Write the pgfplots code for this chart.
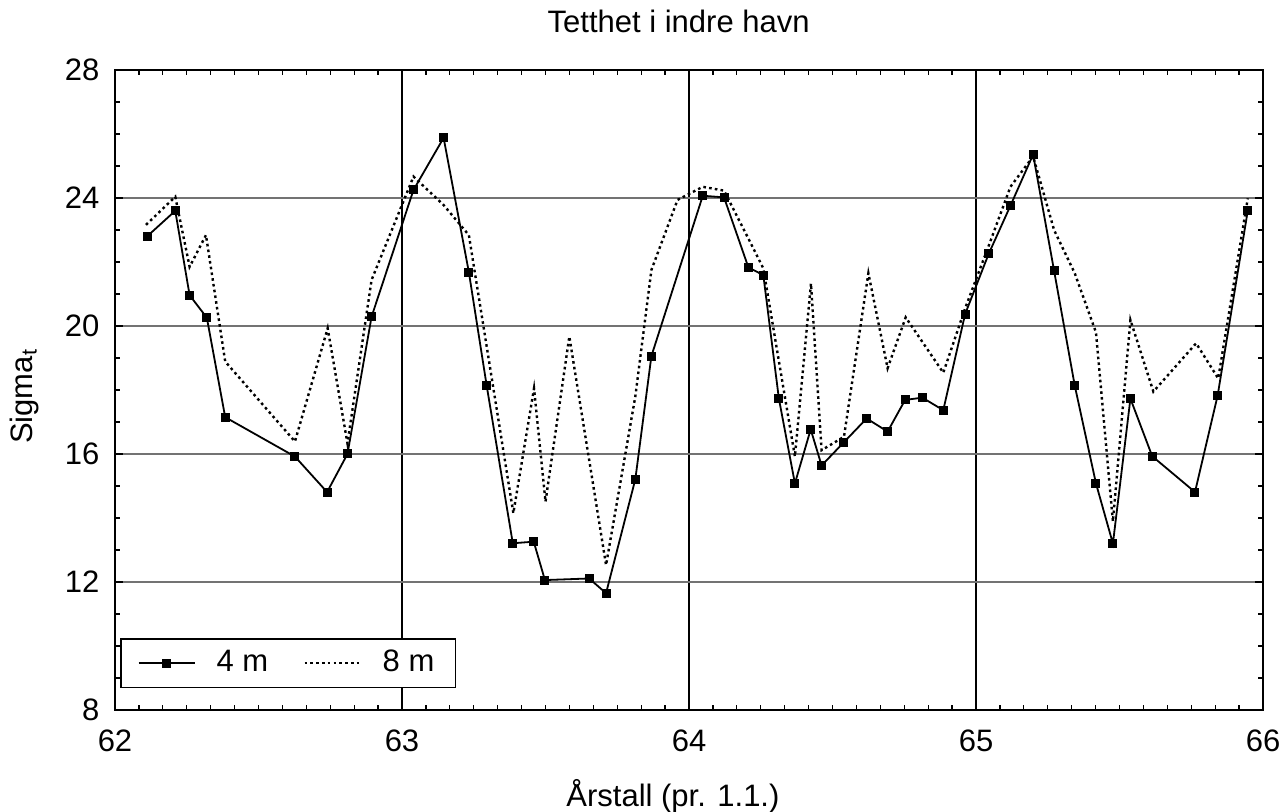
\documentclass[border=0pt]{standalone}
\usepackage{fontspec}
\setmainfont{Liberation Sans}
\usepackage{pgfplots}
\pgfplotsset{compat=1.18}

\newcommand{\chartfont}{\fontsize{15.5}{18}\selectfont}

% 4 m
\pgfplotstableread{
x y
62.113 22.81
62.210 23.60
62.260 20.96
62.320 20.26
62.384 17.15
62.627 15.92
62.739 14.81
62.810 16.00
62.894 20.29
63.040 24.25
63.145 25.88
63.233 21.68
63.295 18.14
63.386 13.21
63.459 13.26
63.498 12.06
63.652 12.11
63.711 11.65
63.813 15.21
63.869 19.06
64.048 24.07
64.122 24.02
64.207 21.83
64.259 21.59
64.313 17.74
64.369 15.08
64.424 16.77
64.462 15.64
64.540 16.37
64.619 17.11
64.692 16.70
64.753 17.69
64.813 17.76
64.886 17.37
64.962 20.37
65.044 22.25
65.120 23.76
65.199 25.36
65.272 21.73
65.344 18.14
65.418 15.08
65.477 13.20
65.538 17.73
65.614 15.93
65.763 14.81
65.842 17.83
65.947 23.61
}\fourm

% 8 m
\pgfplotstableread{
x y
62.108 23.16
62.210 24.04
62.260 21.85
62.317 22.84
62.384 18.89
62.627 16.39
62.741 19.93
62.810 16.33
62.894 21.44
63.040 24.67
63.145 23.78
63.233 22.84
63.388 14.15
63.460 18.05
63.500 14.51
63.583 19.67
63.711 12.53
63.813 17.80
63.869 21.75
63.960 23.94
64.048 24.35
64.122 24.23
64.207 22.73
64.259 21.80
64.369 15.92
64.425 21.33
64.462 16.12
64.540 16.54
64.625 21.65
64.692 18.68
64.755 20.27
64.886 18.54
64.962 20.55
65.044 22.50
65.120 24.35
65.199 25.30
65.272 23.00
65.344 21.65
65.418 19.80
65.477 13.89
65.538 20.19
65.618 17.95
65.767 19.46
65.844 18.36
65.947 23.99
}\eightm

\begin{document}
\chartfont
\begin{tikzpicture}
\useasboundingbox (-57.5pt,-51pt) rectangle (584.5pt,355pt);
\begin{axis}[
  scale only axis,
  width=574pt, height=320pt,
  xmin=62, xmax=66, ymin=8, ymax=28,
  xtick={62,63,64,65,66},
  ytick={8,12,16,20,24,28},
  minor x tick num=11,
  minor y tick num=3,
  tick pos=both,
  tick align=inside,
  major tick length=4pt,
  minor tick length=2.5pt,
  every tick/.style={black, line width=0.6pt},
  axis line style={line width=1pt},
  grid=major,
  major x grid style={black, line width=0.8pt},
  major y grid style={black!55, line width=0.6pt},
  /pgf/number format/assume math mode=true,
  ticklabel style={font=\chartfont},
  yticklabel style={xshift=-2.5pt},
  xticklabel style={yshift=-4.5pt},
  title={Tetthet i indre havn},
  title style={at={(0.491,1)}, anchor=base, yshift=12.5pt, font=\chartfont},
  xlabel={Årstall (pr. 1.1.)},
  xlabel style={at={(0.486,0)}, anchor=base, yshift=-48.5pt, font=\chartfont},
  ylabel={Sigma\textsubscript{t}},
  ylabel style={at={(-0.079,0.49)}, anchor=center, font=\chartfont},
  legend columns=2,
  legend style={at={(0.0044,0.034)}, anchor=south west, draw=black,
    line width=0.8pt, font=\chartfont, inner xsep=8.5pt, inner ysep=3.5pt,
    /tikz/every odd column/.append style={column sep=8.5pt},
    /tikz/every even column/.append style={column sep=15.5pt}},
  legend image code/.code={%
    \draw[mark repeat=2, mark phase=2] plot coordinates {(0pt,0pt) (14pt,0pt) (28pt,0pt)};},
]
\addplot[black, line width=0.9pt, mark=square*, mark size=1.8pt,
  mark options={solid, fill=black}] table[x=x, y=y] {\fourm};
\addlegendentry{4 m}
\addplot[black, line width=1.2pt, dash pattern=on 1.3pt off 1.6pt] table[x=x, y=y] {\eightm};
\addlegendentry{8 m}
\end{axis}
\end{tikzpicture}
\end{document}
